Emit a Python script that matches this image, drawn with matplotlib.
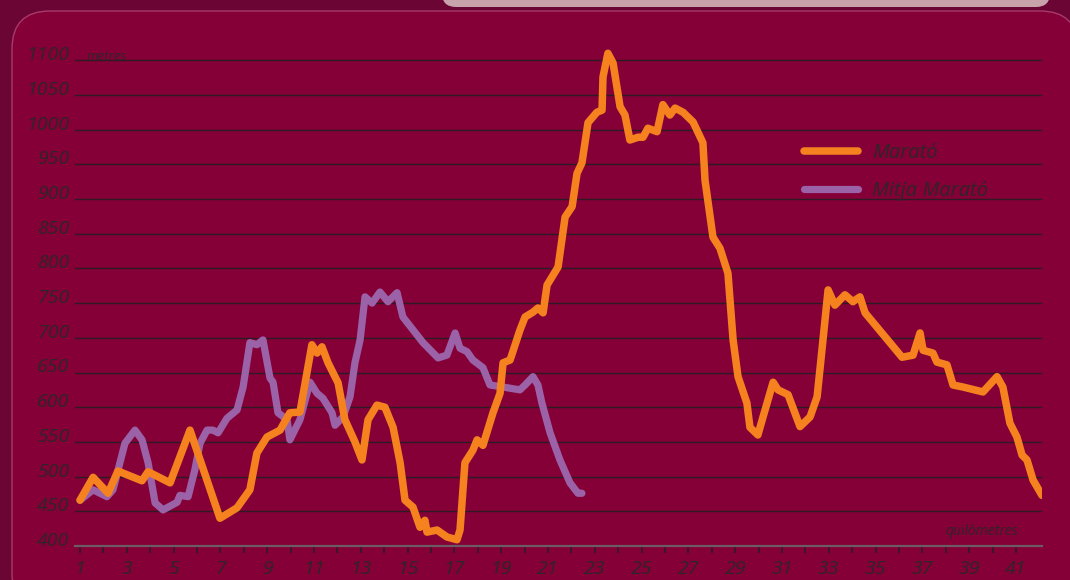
import matplotlib
matplotlib.use("Agg")
import matplotlib.pyplot as plt
from matplotlib.patches import FancyBboxPatch

# Perfil d'altitud (km, metres)
marato_km = [1.00, 1.56, 2.20, 2.62, 3.65, 3.91, 4.85, 5.70, 6.98, 7.71, 8.26, 8.56, 8.99,
             9.55, 9.97, 10.40, 10.91, 11.13, 11.34, 11.60, 12.03, 12.32, 12.75, 13.05,
             13.31, 13.69, 14.03, 14.38, 14.68, 14.89, 15.23, 15.53, 15.74, 15.83, 16.26,
             16.68, 17.11, 17.24, 17.45, 17.79, 17.97, 18.22, 18.65, 18.95, 19.08, 19.38,
             19.80, 20.02, 20.36, 20.57, 20.79, 20.96, 21.43, 21.73, 22.03, 22.24, 22.45,
             22.71, 23.09, 23.31, 23.35, 23.56, 23.78, 24.08, 24.29, 24.50, 24.85, 25.06,
             25.27, 25.66, 25.91, 26.21, 26.43, 26.77, 27.20, 27.62, 27.71, 28.05, 28.35,
             28.69, 28.91, 29.12, 29.50, 29.63, 29.97, 30.19, 30.62, 30.83, 31.26, 31.77,
             32.20, 32.50, 32.62, 32.97, 33.26, 33.69, 34.03, 34.33, 34.55, 36.13, 36.60,
             36.90, 37.03, 37.45, 37.62, 38.05, 38.31, 38.74, 39.59, 40.19, 40.44, 40.74,
             41.04, 41.26, 41.47, 41.73, 42.11]
marato_alt = [466, 499, 476, 508, 494, 507, 491, 567, 440, 455, 481, 534, 557,
              567, 592, 593, 690, 678, 687, 664, 635, 582, 550, 524,
              582, 603, 600, 571, 520, 466, 456, 427, 437, 420, 423,
              413, 409, 423, 520, 538, 553, 545, 592, 620, 664, 668,
              711, 730, 737, 743, 736, 776, 802, 874, 889, 937, 952,
              1010, 1025, 1028, 1076, 1110, 1096, 1033, 1021, 985, 989, 989,
              1002, 997, 1036, 1021, 1031, 1025, 1011, 981, 927, 845, 829,
              793, 697, 644, 606, 571, 560, 586, 636, 625, 618, 572,
              586, 615, 654, 769, 747, 762, 752, 759, 736, 672, 675,
              707, 682, 678, 665, 661, 632, 629, 622, 644, 629, 577,
              557, 531, 524, 495, 473]

mitja_km = [1.00, 1.56, 2.15, 2.41, 2.92, 3.35, 3.65, 3.91, 4.21, 4.55, 5.15, 5.27, 5.62,
            5.91, 6.13, 6.43, 6.68, 6.90, 7.28, 7.71, 7.97, 8.26, 8.56, 8.82, 9.12,
            9.25, 9.46, 9.85, 9.97, 10.40, 10.70, 10.83, 11.13, 11.38, 11.77, 11.90,
            12.24, 12.54, 12.75, 12.97, 13.18, 13.48, 13.82, 14.16, 14.55, 14.80, 15.66,
            16.30, 16.68, 17.03, 17.24, 17.54, 17.79, 18.22, 18.52, 19.08, 19.80, 20.02,
            20.36, 20.57, 20.74, 21.09, 21.51, 21.94, 22.28, 22.45]
mitja_alt = [466, 481, 471, 481, 548, 567, 553, 520, 462, 452, 463, 473, 471,
             510, 548, 567, 567, 563, 584, 596, 629, 693, 690, 697, 642,
             636, 592, 582, 553, 582, 620, 636, 620, 613, 592, 574,
             586, 615, 664, 697, 759, 750, 766, 752, 765, 730, 693,
             671, 675, 707, 685, 680, 668, 657, 632, 629, 625, 632,
             644, 632, 606, 563, 524, 491, 476, 476]

y_ticks = list(range(400, 1101, 50))
x_ticks = list(range(1, 42, 2))

bg_outer = "#6b0533"
bg_panel = "#850037"
grid_col = "#2e1a24"
text_col = "#2e2528"
orange = "#f5821f"
purple = "#9b62a8"

plt.rcParams['font.family'] = ['Open Sans', 'DejaVu Sans']

fig = plt.figure(figsize=(10.7, 5.8), dpi=100)
fig.patch.set_facecolor(bg_outer)

# fons: panell arrodonit
bg = fig.add_axes([0, 0, 1, 1], zorder=0)
bg.set_xlim(0, 1070)
bg.set_ylim(580, 0)
bg.axis('off')
bg.add_patch(FancyBboxPatch((12, 11), 1066, 600, boxstyle="round,pad=0,rounding_size=38",
                            facecolor=bg_panel, edgecolor="#a83a6c", linewidth=1))
bg.add_patch(FancyBboxPatch((442, -30), 608, 37, boxstyle="round,pad=0,rounding_size=14",
                            facecolor="#c9a3ab", edgecolor="none"))

ax = fig.add_axes([75 / 1070, 1 - 546 / 580, 967 / 1070, 506 / 580], zorder=1)
ax.set_facecolor("none")
ax.set_xlim(1 - 5 / 23.4, 1 + 962 / 23.4)
ax.set_ylim(400, 400 + 506 * 50 / 34.7)

for v in y_ticks[1:]:
    ax.axhline(v, color=grid_col, linewidth=1.0, zorder=1)

ax.plot(mitja_km, mitja_alt, color=purple, linewidth=5.2, solid_capstyle='round',
        solid_joinstyle='round', label="Mitja Marató", zorder=3)
ax.plot(marato_km, marato_alt, color=orange, linewidth=5.4, solid_capstyle='round',
        solid_joinstyle='round', label="Marató", zorder=4)

for s in ['top', 'right', 'left']:
    ax.spines[s].set_visible(False)
ax.spines['bottom'].set_color("#6e5a62")
ax.spines['bottom'].set_linewidth(1.6)

ax.set_yticks(y_ticks)
ax.set_yticklabels([str(v) for v in y_ticks], fontsize=14, style='italic', color=text_col)
for lab in ax.get_yticklabels():
    lab.set_va('baseline')
ax.tick_params(axis='y', length=0, pad=4)

ax.set_xticks(x_ticks)
ax.set_xticks(list(range(2, 42, 2)), minor=True)
ax.set_xticklabels([str(v) for v in x_ticks], fontsize=14, style='italic', color=text_col)
ax.tick_params(axis='x', which='both', length=5, width=1.2, color=grid_col, pad=5)

ax.text(1.3, 1100, "metres", fontsize=9.5, style='italic', color=text_col, va='baseline')
ax.text(41.08, 416, "quilòmetres", fontsize=10, style='italic', color=text_col,
        ha='right', va='baseline')

handles, labels = ax.get_legend_handles_labels()
leg = ax.legend(handles[::-1], ["Marató", "Mitja Marató"], loc='upper left',
                bbox_to_anchor=(804 / 1070, 1 - 143 / 580), bbox_transform=fig.transFigure,
                frameon=False, prop={'style': 'italic', 'size': 14.5},
                handlelength=2.7, handletextpad=0.7, labelspacing=0.9,
                borderpad=0, borderaxespad=0)
for t in leg.get_texts():
    t.set_color(text_col)

fig.savefig("out.png", dpi=100, facecolor=fig.get_facecolor())
